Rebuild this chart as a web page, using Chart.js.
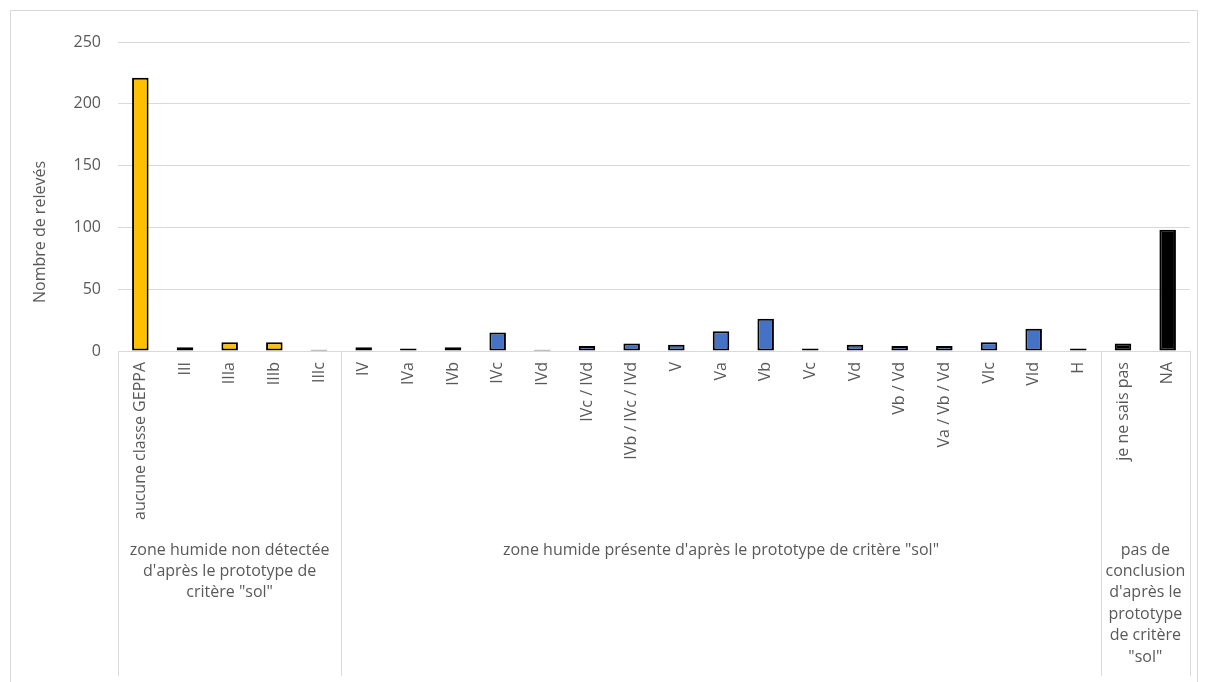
<!DOCTYPE html>
<html>
<head>
<meta charset="utf-8">
<script src="https://cdn.jsdelivr.net/npm/chart.js@4.4.1/dist/chart.umd.min.js"></script>
<style>
  html, body { margin: 0; padding: 0; background: #ffffff; }
  #wrap { position: relative; width: 1208px; height: 682px; }
</style>
</head>
<body>
<div id="wrap"><canvas id="c" width="1208" height="682"></canvas></div>
<script>
// ---- data ----
const categories = ['aucune classe GEPPA', 'III', 'IIIa', 'IIIb', 'IIIc',
  'IV', 'IVa', 'IVb', 'IVc', 'IVd', 'IVc / IVd', 'IVb / IVc / IVd', 'V', 'Va', 'Vb', 'Vc', 'Vd', 'Vb / Vd', 'Va / Vb / Vd', 'VIc', 'VId', 'H',
  'je ne sais pas', 'NA'];
const values = [221, 3, 7, 7, 1,
  3, 2, 3, 15, 1, 4, 6, 5, 16, 26, 2, 5, 4, 4, 7, 18, 2,
  6, 98];
const groupLabels = [
  ['zone humide non détectée', "d'après le prototype de", 'critère "sol"'],
  ["zone humide présente d'après le prototype de critère \"sol\""],
  ['pas de', 'conclusion', "d'après le", 'prototype', 'de critère', '"sol"']
];
const groupSizes = [5, 17, 2];
const groupColors = ['#FFC000', '#4472C4', '#000000'];
const yTicks = [0, 50, 100, 150, 200, 250];
const yTitle = 'Nombre de relevés';

// ---- derived ----
const barColors = [];
groupSizes.forEach((n, g) => { for (let i = 0; i < n; i++) barColors.push(groupColors[g]); });

const FONT = '"Open Sans", "Noto Sans", sans-serif';
const TXT = '#595959';
const GRID = '#d9d9d9';

const decor = {
  id: 'decor',
  beforeDraw(chart) {
    const ctx = chart.ctx;
    ctx.save();
    ctx.strokeStyle = GRID;
    ctx.lineWidth = 1;
    ctx.strokeRect(10.5, 10.5, 1187, 700);
    ctx.restore();
  },
  afterDraw(chart) {
    const ctx = chart.ctx;
    const x = chart.scales.x;
    const area = chart.chartArea;
    const half = (x.getPixelForValue(1) - x.getPixelForValue(0)) / 2;
    ctx.save();
    // group separators
    ctx.strokeStyle = GRID;
    ctx.lineWidth = 1;
    let idx = 0;
    const bounds = [x.getPixelForValue(0) - half];
    groupSizes.forEach(n => { idx += n; bounds.push(x.getPixelForValue(idx - 1) + half); });
    bounds.forEach(b => {
      const px = Math.round(b) + 0.5;
      ctx.beginPath();
      ctx.moveTo(px, area.bottom);
      ctx.lineTo(px, 676);
      ctx.stroke();
    });
    // group labels
    ctx.fillStyle = TXT;
    ctx.font = '16px ' + FONT;
    ctx.textAlign = 'center';
    ctx.textBaseline = 'middle';
    groupLabels.forEach((lines, g) => {
      const cx = (bounds[g] + bounds[g + 1]) / 2;
      lines.forEach((ln, k) => ctx.fillText(ln, cx, 550 + k * 21.4));
    });
    // y title
    ctx.font = '16px ' + FONT;
    ctx.translate(40, 232);
    ctx.rotate(-Math.PI / 2);
    ctx.fillText(yTitle, 0, 0);
    ctx.restore();
  }
};

new Chart(document.getElementById('c'), {
  type: 'bar',
  data: {
    labels: categories,
    datasets: [{
      data: values,
      backgroundColor: barColors,
      borderColor: '#000000',
      borderWidth: 2,
      borderSkipped: false,
      barPercentage: 0.37,
      categoryPercentage: 1.0
    }]
  },
  options: {
    responsive: false,
    animation: false,
    events: [],
    layout: { padding: { top: 42, right: 18, left: 0, bottom: 0 } },
    plugins: { legend: { display: false }, tooltip: { enabled: false } },
    scales: {
      x: {
        afterFit: s => { s.height = 331; },
        grid: { display: false, drawTicks: false },
        border: { display: true, color: GRID, width: 1 },
        ticks: {
          autoSkip: false, minRotation: 90, maxRotation: 90,
          padding: 11, color: TXT, font: { family: FONT, size: 16 }
        }
      },
      y: {
        min: 0, max: 250,
        afterFit: s => { s.width = 118; },
        afterBuildTicks: s => { s.ticks = yTicks.map(v => ({ value: v })); },
        grid: { color: GRID, drawTicks: false },
        border: { display: false },
        ticks: { padding: 17, color: TXT, font: { family: FONT, size: 16 } }
      }
    }
  },
  plugins: [decor]
});
</script>
</body>
</html>
